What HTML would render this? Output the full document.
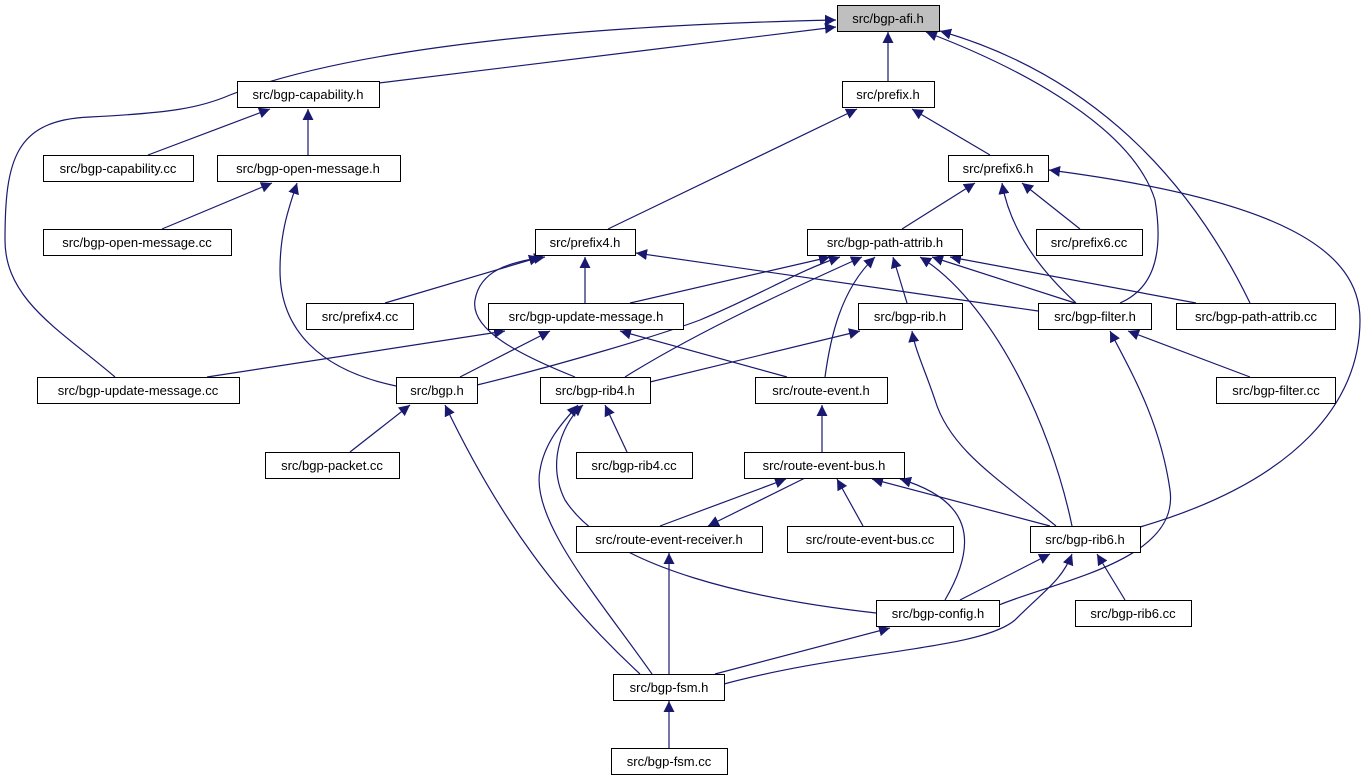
<!DOCTYPE html>
<html><head><meta charset="utf-8"><style>
html,body{margin:0;padding:0;background:#fff;}
svg{display:block;}
text{font-family:"Liberation Sans",sans-serif;font-size:13px;fill:#000;}
.e{fill:none;stroke:#191970;stroke-width:1.2;}
</style></head><body>
<svg width="1367" height="784" viewBox="0 0 1367 784" xmlns="http://www.w3.org/2000/svg">
<defs><marker id="a" viewBox="0 0 10 10" refX="10" refY="5" markerWidth="11" markerHeight="11" markerUnits="userSpaceOnUse" orient="auto"><path d="M0,0 L10,5 L0,10 z" fill="#191970"/></marker></defs>
<g class="e" marker-end="url(#a)">
<path d="M379,83 L836,27"/>
<path d="M115,377 C60,330 5,300 5,240 C5,160 15,120 90,117 C170,113 200,108 230,95 C360,45 600,25 836,20"/>
<path d="M888,81 L888,32"/>
<path d="M1120,303 C1150,290 1165,260 1155,200 C1130,120 1000,60 926,32"/>
<path d="M1250,303 C1200,200 1110,80 940,31"/>
<path d="M148,155 L270,109"/>
<path d="M308,155 L308,109"/>
<path d="M162,229 L272,183"/>
<path d="M396,386 C320,370 280,330 280,270 C280,230 290,205 297,183"/>
<path d="M608,229 L857,109"/>
<path d="M990,155 L912,109"/>
<path d="M902,229 L975,183"/>
<path d="M1080,229 L1022,183"/>
<path d="M1076,303 C1040,270 1010,230 1002,183"/>
<path d="M1140,527 C1300,480 1360,400 1360,320 C1360,250 1280,200 1049,170"/>
<path d="M385,303 L540,257"/>
<path d="M585,303 L585,257"/>
<path d="M575,377 C520,355 470,330 475,300 C480,270 510,262 545,257"/>
<path d="M1038,311 L636,253"/>
<path d="M630,303 L830,257"/>
<path d="M477,385 C560,365 660,335 700,320 C760,295 800,270 840,257"/>
<path d="M625,377 C700,330 800,285 862,257"/>
<path d="M825,377 C830,340 840,290 875,257"/>
<path d="M907,303 L893,257"/>
<path d="M1072,526 C1050,420 990,300 920,257"/>
<path d="M1075,303 L932,257"/>
<path d="M1196,303 L950,257"/>
<path d="M207,377 L505,331"/>
<path d="M460,377 L550,331"/>
<path d="M787,377 L620,331"/>
<path d="M650,382 L860,331"/>
<path d="M1056,526 C1000,480 950,450 935,400 C925,370 915,350 912,331"/>
<path d="M1250,377 L1128,331"/>
<path d="M999,605 C1060,580 1180,560 1170,490 C1160,420 1130,370 1110,331"/>
<path d="M350,452 L410,405"/>
<path d="M640,674 C560,600 500,520 445,405"/>
<path d="M627,452 L605,405"/>
<path d="M652,674 C600,600 530,520 540,470 C545,440 565,420 578,405"/>
<path d="M876,613 C760,600 610,570 565,500 C545,460 565,420 583,405"/>
<path d="M822,452 L822,405"/>
<path d="M660,526 L786,479"/>
<path d="M805,478 L708,526"/>
<path d="M863,526 L837,479"/>
<path d="M1050,526 L872,479"/>
<path d="M945,600 C980,540 970,500 900,479"/>
<path d="M669,674 L669,553"/>
<path d="M960,600 L1050,554"/>
<path d="M1125,600 L1097,554"/>
<path d="M724,684 C850,650 980,650 1015,620 C1045,590 1062,580 1072,554"/>
<path d="M715,674 L890,628"/>
<path d="M669,748 L669,701"/>
</g>
<g fill="#fff" stroke="#000" stroke-width="1">
<rect x="837.5" y="5.5" width="102" height="26" fill="#bfbfbf"/>
<rect x="237.5" y="81.5" width="142" height="26"/>
<rect x="842.5" y="81.5" width="92" height="26"/>
<rect x="43.5" y="155.5" width="150" height="26"/>
<rect x="217.5" y="155.5" width="183" height="26"/>
<rect x="948.5" y="155.5" width="100" height="26"/>
<rect x="43.5" y="229.5" width="188" height="26"/>
<rect x="535.5" y="229.5" width="100" height="26"/>
<rect x="807.5" y="229.5" width="155" height="26"/>
<rect x="1036.5" y="229.5" width="106" height="26"/>
<rect x="306.5" y="303.5" width="107" height="26"/>
<rect x="488.5" y="303.5" width="195" height="26"/>
<rect x="858.5" y="303.5" width="104" height="26"/>
<rect x="1038.5" y="303.5" width="113" height="26"/>
<rect x="1176.5" y="303.5" width="159" height="26"/>
<rect x="37.5" y="377.5" width="202" height="26"/>
<rect x="396.5" y="377.5" width="81" height="26"/>
<rect x="540.5" y="377.5" width="110" height="26"/>
<rect x="755.5" y="377.5" width="132" height="26"/>
<rect x="1216.5" y="377.5" width="119" height="26"/>
<rect x="265.5" y="452.5" width="134" height="26"/>
<rect x="576.5" y="452.5" width="116" height="26"/>
<rect x="744.5" y="452.5" width="160" height="26"/>
<rect x="576.5" y="526.5" width="186" height="26"/>
<rect x="787.5" y="526.5" width="166" height="26"/>
<rect x="1030.5" y="526.5" width="110" height="26"/>
<rect x="876.5" y="600.5" width="123" height="26"/>
<rect x="1075.5" y="600.5" width="116" height="26"/>
<rect x="613.5" y="674.5" width="111" height="26"/>
<rect x="611.5" y="748.5" width="116" height="26"/>
</g>
<g text-anchor="middle">
<text x="888" y="23">src/bgp-afi.h</text>
<text x="308" y="99">src/bgp-capability.h</text>
<text x="888" y="99">src/prefix.h</text>
<text x="118" y="173">src/bgp-capability.cc</text>
<text x="308" y="173">src/bgp-open-message.h</text>
<text x="998" y="173">src/prefix6.h</text>
<text x="137" y="247">src/bgp-open-message.cc</text>
<text x="585" y="247">src/prefix4.h</text>
<text x="885" y="247">src/bgp-path-attrib.h</text>
<text x="1089" y="247">src/prefix6.cc</text>
<text x="360" y="321">src/prefix4.cc</text>
<text x="586" y="321">src/bgp-update-message.h</text>
<text x="910" y="321">src/bgp-rib.h</text>
<text x="1095" y="321">src/bgp-filter.h</text>
<text x="1256" y="321">src/bgp-path-attrib.cc</text>
<text x="138" y="395">src/bgp-update-message.cc</text>
<text x="437" y="395">src/bgp.h</text>
<text x="595" y="395">src/bgp-rib4.h</text>
<text x="821" y="395">src/route-event.h</text>
<text x="1276" y="395">src/bgp-filter.cc</text>
<text x="332" y="470">src/bgp-packet.cc</text>
<text x="634" y="470">src/bgp-rib4.cc</text>
<text x="824" y="470">src/route-event-bus.h</text>
<text x="669" y="544">src/route-event-receiver.h</text>
<text x="870" y="544">src/route-event-bus.cc</text>
<text x="1085" y="544">src/bgp-rib6.h</text>
<text x="938" y="618">src/bgp-config.h</text>
<text x="1133" y="618">src/bgp-rib6.cc</text>
<text x="669" y="692">src/bgp-fsm.h</text>
<text x="669" y="766">src/bgp-fsm.cc</text>
</g>
</svg>
</body></html>
